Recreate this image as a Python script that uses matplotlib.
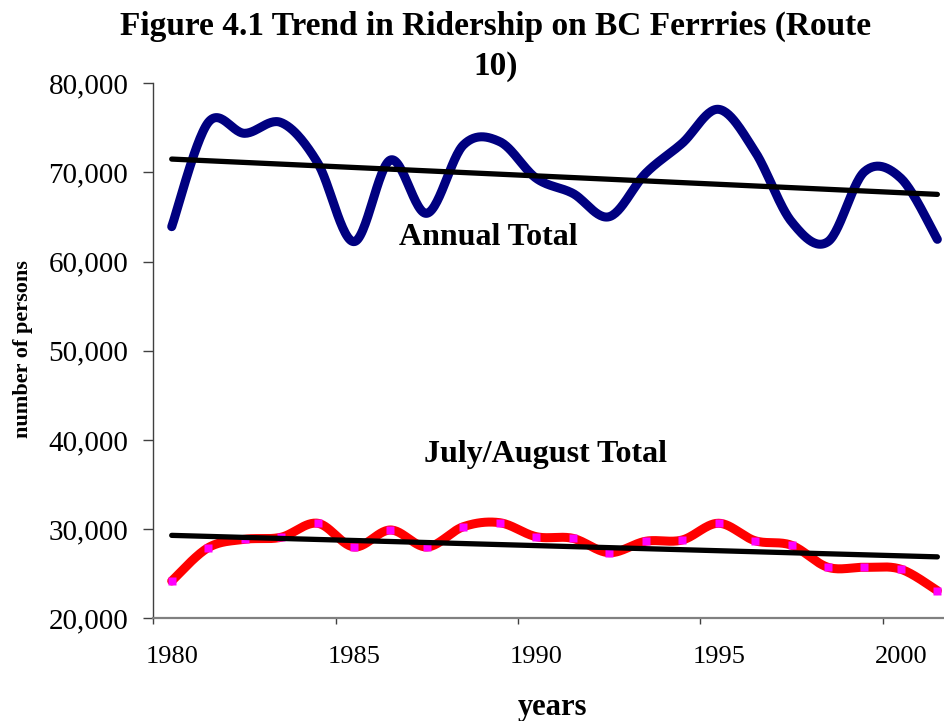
import numpy as np
import matplotlib
matplotlib.use("Agg")
import matplotlib.pyplot as plt

# ---- data ----
years = list(range(1980, 2002))
annual_total = [63920, 75600, 74390, 75600, 71100, 62240, 71400, 65420, 73080, 73450, 69340,
                67660, 65040, 69910, 73270, 77080, 72330, 64480, 62240, 70090, 69350, 62500]
july_august_total = [24185, 27920, 28860, 29090, 30660, 28000, 29905, 28000, 30275, 30720, 29150,
                     28970, 27360, 28640, 28780, 30660, 28700, 28190, 25720, 25720, 25500, 23100]
x_tick_labels = ["1980", "1985", "1990", "1995", "2000"]
y_ticks = [20000, 30000, 40000, 50000, 60000, 70000, 80000]

plt.rcParams['font.family'] = ['Liberation Serif', 'DejaVu Serif']

W, H, DPI = 945, 721, 100
fig = plt.figure(figsize=(W / DPI, H / DPI), dpi=DPI)
left_px, right_px, top_px, bottom_px = 153.3, 945, 83.3, 618.3
ax = fig.add_axes([left_px / W, 1 - bottom_px / H, (right_px - left_px) / W, (bottom_px - top_px) / H])

xs = np.array(years, dtype=float)
ax.set_xlim(xs[0] - 0.505, xs[0] - 0.505 + (right_px - left_px) / 36.46)
ax.set_ylim(20000, 80000)


def smooth(ax, x, y, n=30):
    pts = ax.transData.transform(np.column_stack([x, y]))
    out = []
    m = len(pts)
    t = np.linspace(0, 1, n)[:, None]
    for i in range(m - 1):
        p0 = pts[max(i - 1, 0)]
        p1 = pts[i]
        p2 = pts[i + 1]
        p3 = pts[min(i + 2, m - 1)]
        c1 = p1 + (p2 - p0) / 6.0
        c2 = p2 - (p3 - p1) / 6.0
        seg = (1 - t) ** 3 * p1 + 3 * (1 - t) ** 2 * t * c1 + 3 * (1 - t) * t ** 2 * c2 + t ** 3 * p2
        out.append(seg if i == 0 else seg[1:])
    out = np.vstack(out)
    d = ax.transData.inverted().transform(out)
    return d[:, 0], d[:, 1]


a = np.array(annual_total, dtype=float)
j = np.array(july_august_total, dtype=float)

sx, sy = smooth(ax, xs, a)
ax.plot(sx, sy, color='#000080', lw=6.5, solid_capstyle='round', zorder=3)
sx, sy = smooth(ax, xs, j)
ax.plot(sx, sy, color='#ff0000', lw=6.5, solid_capstyle='round', zorder=3)
ax.plot(xs, j, linestyle='none', marker='s', markersize=6, color='#ff00ff', mec='none', zorder=4)

# linear trend lines
for vals in (a, j):
    k, b = np.polyfit(xs, vals, 1)
    ax.plot([xs[0], xs[-1]], [k * xs[0] + b, k * xs[-1] + b], color='black', lw=3.8,
            solid_capstyle='round', zorder=5)

# axes styling
for s in ('top', 'right'):
    ax.spines[s].set_visible(False)
ax.spines['bottom'].set_color('#808080')
ax.spines['bottom'].set_linewidth(1.6)
ax.spines['left'].set_color('#404040')
ax.spines['left'].set_linewidth(1.0)

ax.set_yticks(y_ticks)
ax.set_yticklabels([f"{v:,}" for v in y_ticks], fontsize=21)
ax.tick_params(axis='y', length=7, width=1, color='#404040', pad=11)

# category axis: tick marks between categories, labels on categories
ax.set_xticks([xs[0] - 0.5 + 5 * i for i in range(5)])
ax.set_xticklabels([])
ax.tick_params(axis='x', which='major', length=4, width=1, color='#404040')
ax.set_xticks([float(v) for v in x_tick_labels], minor=True)
ax.set_xticklabels(x_tick_labels, minor=True, fontsize=19)
ax.tick_params(axis='x', which='minor', length=0, pad=20)

ax.set_xlabel('years', fontsize=22, fontweight='bold')
ax.xaxis.set_label_coords((553 - left_px) / (right_px - left_px), -(708 - bottom_px) / (bottom_px - top_px))
ax.set_ylabel('number of persons', fontsize=16, fontweight='bold')
ax.yaxis.set_label_coords(-(left_px - 23) / (right_px - left_px), (bottom_px - 349) / (bottom_px - top_px))
ax.xaxis.label.set_va('center')
ax.yaxis.label.set_va('center')

ax.text(1988.675, 61870, 'Annual Total', fontsize=23, fontweight='bold', ha='center', va='baseline', zorder=6)
ax.text(1990.24, 37530, 'July/August Total', fontsize=23, fontweight='bold', ha='center', va='baseline', zorder=6)

fig.text(496 / W, 1 - 35 / H, 'Figure 4.1 Trend in Ridership on BC Ferrries (Route', fontsize=24,
         fontweight='bold', ha='center', va='baseline')
fig.text(496 / W, 1 - 75 / H, '10)', fontsize=24, fontweight='bold', ha='center', va='baseline')

fig.savefig('out.png', dpi=DPI)
